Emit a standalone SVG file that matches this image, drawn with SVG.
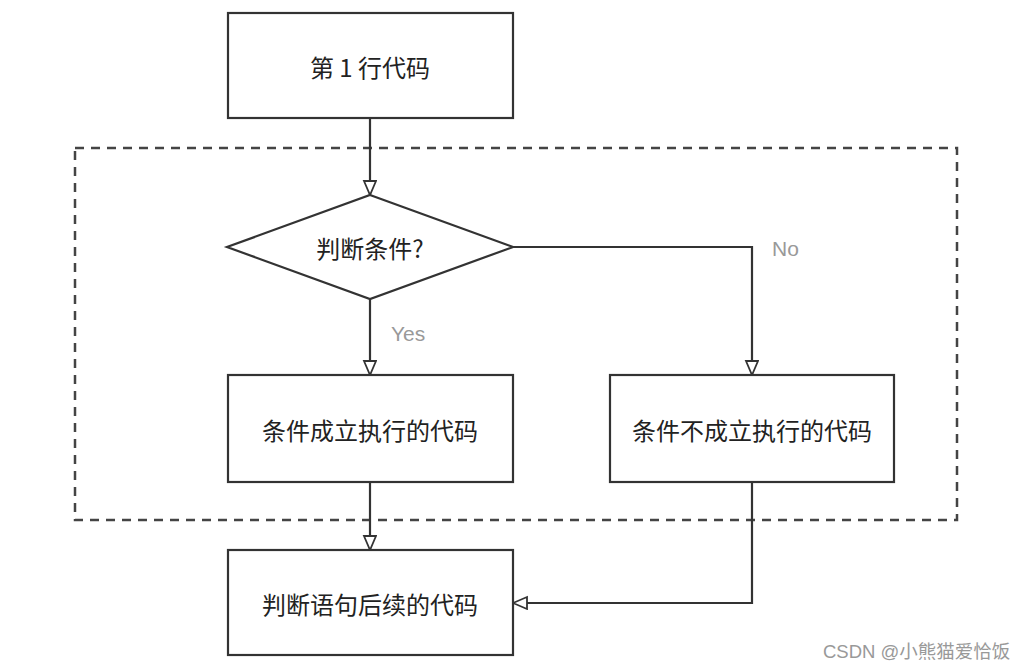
<svg xmlns="http://www.w3.org/2000/svg" width="1030" height="670" viewBox="0 0 1030 670">
<defs>
<style>
.box{fill:#fff;stroke:#333;stroke-width:2.2}
.lbl{font-family:"Noto Sans CJK SC","Noto Sans",sans-serif;font-size:24px;fill:#222;text-anchor:middle;dominant-baseline:central}
.edge{fill:none;stroke:#333;stroke-width:2.2}
.elbl{font-family:"Liberation Sans",Arial,sans-serif;font-size:21px;fill:#999}
</style>
<marker id="arr" markerWidth="17" markerHeight="17" refX="15" refY="7" orient="auto" markerUnits="userSpaceOnUse">
<path d="M1,1 L15,7 L1,13 Z" fill="#fff" stroke="#333" stroke-width="1.8"/>
</marker>
</defs>
<rect width="1030" height="670" fill="#fff"/>
<g id="loop">
<rect x="75" y="148" width="882" height="372" fill="none" stroke="#444" stroke-width="2.5" stroke-dasharray="9 7"/>
</g>
<g id="connectors">
<path class="edge" d="M370,118 L370,195" marker-end="url(#arr)"/>
<path class="edge" d="M370,299 L370,375" marker-end="url(#arr)"/>
<path class="edge" d="M513,247 L752,247 L752,375" marker-end="url(#arr)"/>
<path class="edge" d="M370,482 L370,550" marker-end="url(#arr)"/>
<path class="edge" d="M752,482 L752,603 L513,603" marker-end="url(#arr)"/>
<text class="elbl" x="391" y="341">Yes</text>
<text class="elbl" x="772" y="256">No</text>
</g>
<g id="n1">
<rect class="box" x="228" y="13" width="285" height="105"/>
<text class="lbl" x="370" y="66" xml:space="preserve">第 1 行代码</text>
</g>
<g id="n2">
<polygon class="box" points="370,195 513,247 370,299 227,247"/>
<text class="lbl" x="370" y="247">判断条件?</text>
</g>
<g id="n3">
<rect class="box" x="228" y="375" width="285" height="107"/>
<text class="lbl" x="370" y="429">条件成立执行的代码</text>
</g>
<g id="n4">
<rect class="box" x="610" y="375" width="284" height="107"/>
<text class="lbl" x="752" y="429">条件不成立执行的代码</text>
</g>
<g id="n5">
<rect class="box" x="228" y="550" width="285" height="105"/>
<text class="lbl" x="370" y="603">判断语句后续的代码</text>
</g>
<text x="823" y="658" font-family="'Liberation Sans','Noto Sans CJK SC',sans-serif" font-size="18.5" fill="#999">CSDN @小熊猫爱恰饭</text>
</svg>
